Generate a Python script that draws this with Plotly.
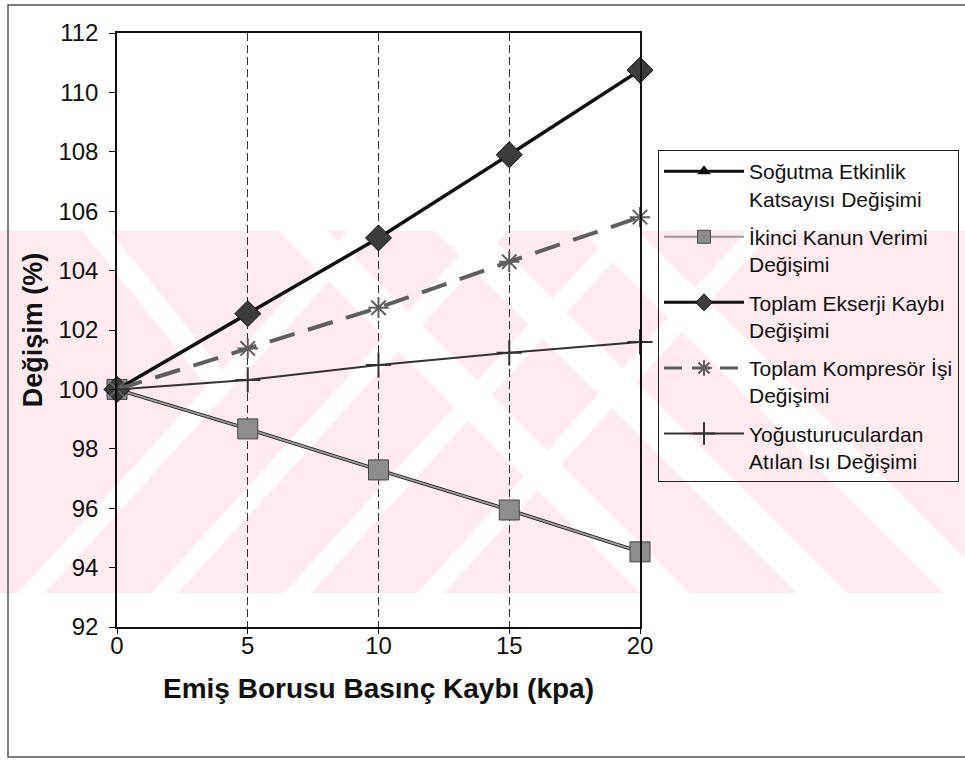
import plotly.graph_objects as go

# Emiş borusu basınç kaybı (kPa) ve yüzde değişimler
kayip = [0, 5, 10, 15, 20]
sogutma_etkinlik = [100, 98.67, 97.29, 95.94, 94.53]
ikinci_kanun = [100, 98.67, 97.29, 95.94, 94.53]
ekserji_kaybi = [100, 102.55, 105.1, 107.9, 110.75]
kompresor_isi = [100, 101.38, 102.75, 104.3, 105.8]
yogusturucu_isi = [100, 100.32, 100.82, 101.23, 101.6]

seri_adlari = [
    "Soğutma Etkinlik<br>Katsayısı Değişimi",
    "İkinci Kanun Verimi<br>Değişimi",
    "Toplam Ekserji Kaybı<br>Değişimi",
    "Toplam Kompresör İşi<br>Değişimi",
    "Yoğusturuculardan<br>Atılan Isı Değişimi",
]

W, H = 965, 765
ML, MR, MT, MB = 117, 325, 33, 138
PW, PH = W - ML - MR, H - MT - MB


def px(x):
    return (x - ML) / PW


def py(y):
    return (H - MB - y) / PH


FONT = "Liberation Sans, Arial, sans-serif"

# series styles: (values, line style, marker style, legend marker size)
stiller = [
    (sogutma_etkinlik,
     dict(color="#111111", width=3.5),
     dict(symbol="triangle-up", size=13, color="#111111"), 12),
    (ikinci_kanun,
     dict(color="#9c9c9c", width=2),
     dict(symbol="square", size=20, color="#8c8c8c", line=dict(color="#444444", width=1)), 13),
    (ekserji_kaybi,
     dict(color="#111111", width=3.5),
     dict(symbol="diamond", size=20, color="#3c3c3c", line=dict(color="#111111", width=1)), 13),
    (kompresor_isi,
     dict(color="#5e5e5e", width=4, dash="26px,14px"),
     dict(symbol="asterisk-open", size=17, line=dict(color="#222222", width=2)), 13),
    (yogusturucu_isi,
     dict(color="#333333", width=2),
     dict(symbol="cross-thin-open", size=18, line=dict(color="#222222", width=2)), 16),
]

fig = go.Figure()
for i, (degerler, cizgi, isaret, _) in enumerate(stiller):
    fig.add_trace(go.Scatter(
        x=kayip, y=degerler, name=seri_adlari[i], legendgroup=f"s{i}",
        mode="lines+markers", cliponaxis=False, showlegend=False,
        line=cizgi, marker=isaret,
    ))

# legend entries with compact symbols
for i, (degerler, cizgi, isaret, boy) in enumerate(stiller):
    lejant_cizgi = dict(cizgi)
    lejant_cizgi["width"] = min(cizgi["width"], 3)
    if "dash" in lejant_cizgi:
        lejant_cizgi["dash"] = "18px,10px"
    lejant_isaret = dict(isaret)
    lejant_isaret["size"] = boy
    fig.add_trace(go.Scatter(
        x=[None], y=[None], name=seri_adlari[i], legendgroup=f"s{i}",
        mode="lines+markers", line=lejant_cizgi, marker=lejant_isaret,
    ))

# light pink diagonal background band
PINK = "#fdebef"
shapes = []


def poly(points, color):
    path = "M " + " L ".join(f"{px(a):.4f},{py(b):.4f}" for a, b in points) + " Z"
    return dict(type="path", path=path, xref="paper", yref="paper",
                fillcolor=color, line=dict(width=0), layer="below")


top, bot = 231, 593
shapes.append(poly([(0, top), (965, top), (965, bot), (0, bot)], PINK))
# white rising stripes
for b in [18, 151, 284, 417]:
    w = 27
    shapes.append(poly([(b, bot), (b + w, bot), (b + w + 330, top), (b + 330, top)], "white"))
# white falling stripes on the right
for b0, b1 in [(640, 690), (797, 847), (943, 1000)]:
    shapes.append(poly([(b0, bot), (b1, bot), (b1 - 362, top), (b0 - 362, top)], "white"))
# white falling stripe top-left
shapes.append(poly([(82, top), (110, top), (230, 380), (202, 380)], "white"))

# outer frame
shapes.append(dict(type="rect", xref="paper", yref="paper",
                   x0=px(8), y0=py(757), x1=px(975), y1=py(5),
                   line=dict(color="#555555", width=1.5), fillcolor="rgba(0,0,0,0)",
                   layer="below"))

fig.update_layout(
    width=W, height=H,
    margin=dict(l=ML, r=MR, t=MT, b=MB, pad=0, autoexpand=False),
    paper_bgcolor="white",
    plot_bgcolor="rgba(0,0,0,0)",
    font=dict(family=FONT, size=20, color="#111111"),
    shapes=shapes,
    legend=dict(
        x=px(658), y=py(150), xanchor="left", yanchor="top",
        bgcolor="rgba(0,0,0,0)", bordercolor="#222222", borderwidth=1,
        font=dict(family=FONT, size=21, color="#111111"),
        itemwidth=80, valign="top", tracegroupgap=8,
        traceorder="grouped",
    ),
    xaxis=dict(
        range=[0, 20], tickvals=kayip, ticktext=[str(v) for v in kayip],
        showline=True, mirror=True, linecolor="#111111", linewidth=1.5,
        ticks="outside", ticklen=5, tickcolor="#111111",
        ticklabelstandoff=-9,
        showgrid=True, gridcolor="#333333", gridwidth=1, griddash="8px,4px",
        zeroline=False,
        tickfont=dict(family=FONT, size=24, color="#111111"),
        title=dict(text="<b>Emiş Borusu Basınç Kaybı (kpa)</b>",
                   font=dict(family=FONT, size=28, color="#111111"), standoff=21),
    ),
    yaxis=dict(
        range=[92, 112], dtick=2,
        showline=True, mirror=True, linecolor="#111111", linewidth=1.5,
        ticks="outside", ticklen=6, tickcolor="#111111",
        ticklabelstandoff=6,
        showgrid=False, zeroline=False,
        tickfont=dict(family=FONT, size=24, color="#111111"),
        title=dict(text="<b>Değişim (%)</b>",
                   font=dict(family=FONT, size=27, color="#111111"), standoff=8),
    ),
)

fig.write_html("out.html")
